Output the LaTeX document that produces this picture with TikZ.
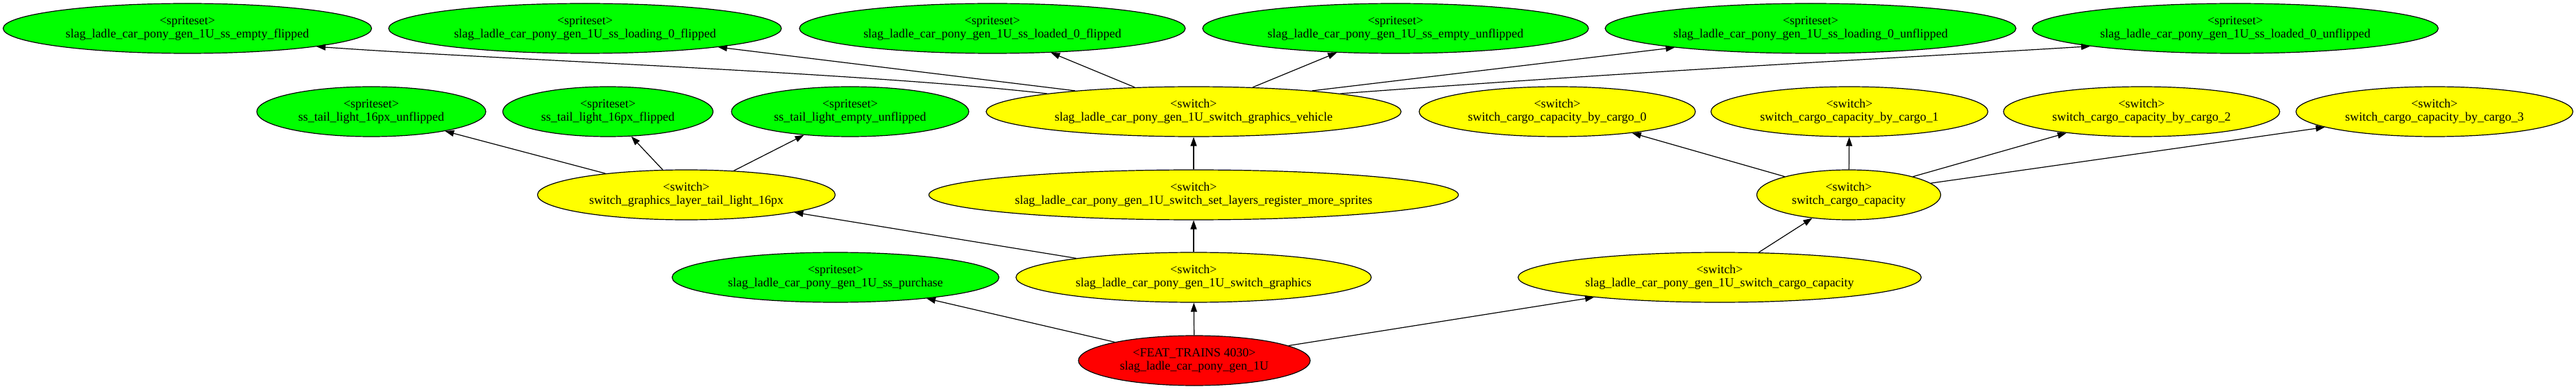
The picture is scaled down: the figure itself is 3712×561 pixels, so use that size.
\documentclass[tikz,border=0pt]{standalone}
\usepackage{fontspec}
\setmainfont{Liberation Serif}
\usetikzlibrary{shapes.geometric,arrows.meta}
\definecolor{gvgreen}{RGB}{0,255,0}
\definecolor{gvyellow}{RGB}{255,255,0}
\definecolor{gvred}{RGB}{255,0,0}
\begin{document}
\begin{tikzpicture}[x=1bp,y=-1bp,
  gv/.style={ellipse,draw=black,line width=1.2bp,inner sep=0pt,minimum height=72bp,align=center,font=\fontsize{18}{19}\selectfont},
  sprite/.style={gv,fill=gvgreen},
  sw/.style={gv,fill=gvyellow},
  feat/.style={gv,fill=gvred},
  conn/.style={-{Triangle[length=13bp,width=9bp]},line width=1.2bp}]
\useasboundingbox (0,0) rectangle (3712,561);
% row 1
\node[sprite,minimum width=531bp] (a1) at (270,41) {<spriteset>\\slag\_ladle\_car\_pony\_gen\_1U\_ss\_empty\_flipped};
\node[sprite,minimum width=566bp] (a2) at (843,41) {<spriteset>\\slag\_ladle\_car\_pony\_gen\_1U\_ss\_loading\_0\_flipped};
\node[sprite,minimum width=556bp] (a3) at (1430,41) {<spriteset>\\slag\_ladle\_car\_pony\_gen\_1U\_ss\_loaded\_0\_flipped};
\node[sprite,minimum width=556bp] (a4) at (2011,41) {<spriteset>\\slag\_ladle\_car\_pony\_gen\_1U\_ss\_empty\_unflipped};
\node[sprite,minimum width=592bp] (a5) at (2609,41) {<spriteset>\\slag\_ladle\_car\_pony\_gen\_1U\_ss\_loading\_0\_unflipped};
\node[sprite,minimum width=585bp] (a6) at (3221,41) {<spriteset>\\slag\_ladle\_car\_pony\_gen\_1U\_ss\_loaded\_0\_unflipped};
% row 2
\node[sprite,minimum width=330bp] (b1) at (535,161) {<spriteset>\\ss\_tail\_light\_16px\_unflipped};
\node[sprite,minimum width=303bp] (b2) at (876,161) {<spriteset>\\ss\_tail\_light\_16px\_flipped};
\node[sprite,minimum width=342bp] (b3) at (1225,161) {<spriteset>\\ss\_tail\_light\_empty\_unflipped};
\node[sw,minimum width=598bp] (b4) at (1720,161) {<switch>\\slag\_ladle\_car\_pony\_gen\_1U\_switch\_graphics\_vehicle};
\node[sw,minimum width=398bp] (b5) at (2244,161) {<switch>\\switch\_cargo\_capacity\_by\_cargo\_0};
\node[sw,minimum width=399bp] (b6) at (2665,161) {<switch>\\switch\_cargo\_capacity\_by\_cargo\_1};
\node[sw,minimum width=398bp] (b7) at (3086,161) {<switch>\\switch\_cargo\_capacity\_by\_cargo\_2};
\node[sw,minimum width=399bp] (b8) at (3508,161) {<switch>\\switch\_cargo\_capacity\_by\_cargo\_3};
% row 3
\node[sw,minimum width=429bp] (c1) at (989,281) {<switch>\\switch\_graphics\_layer\_tail\_light\_16px};
\node[sw,minimum width=763bp] (c2) at (1720,281) {<switch>\\slag\_ladle\_car\_pony\_gen\_1U\_switch\_set\_layers\_register\_more\_sprites};
\node[sw,minimum width=265bp] (c3) at (2664,281) {<switch>\\switch\_cargo\_capacity};
% row 4
\node[sprite,minimum width=471bp] (d1) at (1204,400) {<spriteset>\\slag\_ladle\_car\_pony\_gen\_1U\_ss\_purchase};
\node[sw,minimum width=512bp] (d2) at (1720,400) {<switch>\\slag\_ladle\_car\_pony\_gen\_1U\_switch\_graphics};
\node[sw,minimum width=581bp] (d3) at (2478,400) {<switch>\\slag\_ladle\_car\_pony\_gen\_1U\_switch\_cargo\_capacity};
% row 5
\node[feat,minimum width=334bp] (e) at (1721,520) {<FEAT\_TRAINS 4030>\\slag\_ladle\_car\_pony\_gen\_1U};
% edges
\draw[conn] (e) -- (d1);
\draw[conn] (e) -- (d2);
\draw[conn] (e) -- (d3);
\draw[conn] (d2) -- (c1);
\draw[conn] (d2) -- (c2);
\draw[conn] (d3) -- (c3);
\draw[conn] (c2) -- (b4);
\draw[conn] (c1) -- (b1);
\draw[conn] (c1) -- (b2);
\draw[conn] (c1) -- (b3);
\draw[conn] (c3) -- (b5);
\draw[conn] (c3) -- (b6);
\draw[conn] (c3) -- (b7);
\draw[conn] (c3) -- (b8);
\draw[conn] (b4.173) .. controls (1250,105) and (700,85) .. (a1.-8);
\draw[conn] (b4.170) -- (a2.-8);
\draw[conn] (b4) -- (a3);
\draw[conn] (b4) -- (a4);
\draw[conn] (b4.10) -- (a5.188);
\draw[conn] (b4.7) .. controls (2400,100) and (2800,80) .. (a6.187);
\end{tikzpicture}
\end{document}
